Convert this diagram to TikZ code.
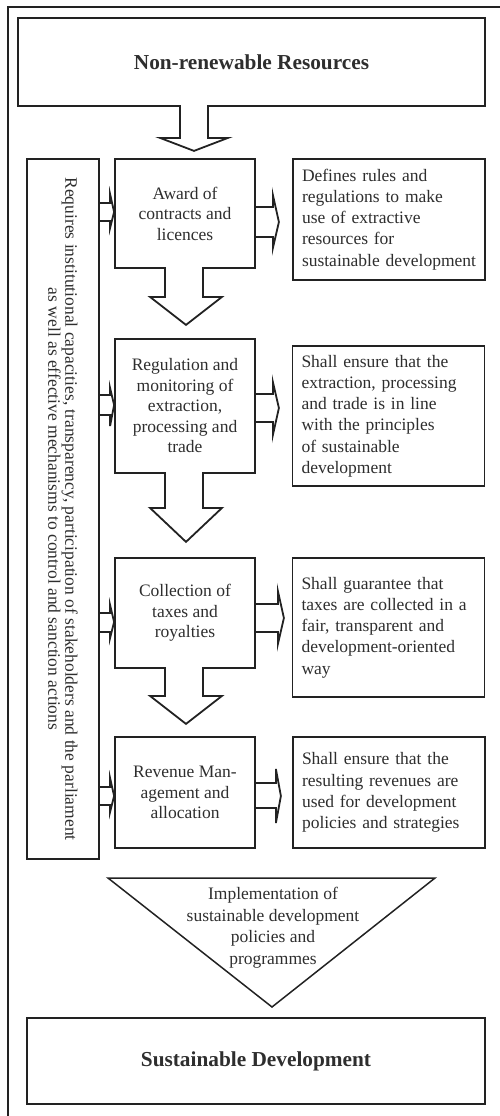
\documentclass[tikz,border=0pt]{standalone}
\usepackage{fontspec}
\setmainfont{Liberation Serif}
\usetikzlibrary{calc}
\definecolor{ink}{HTML}{222222}
\definecolor{txt}{HTML}{2E2E2E}
\begin{document}
\begin{tikzpicture}[x=1pt,y=-1pt,
  box/.style={draw=ink,line width=1.8pt,text=txt,inner sep=0pt},
  stepbox/.style={box,minimum width=140pt,align=center,font=\fontsize{17.5}{20.5}\selectfont},
  notebox/.style={box,text width=174pt,inner xsep=9pt,align=left,font=\fontsize{17.5}{21.2}\selectfont},
  titlebox/.style={box,font=\fontsize{21.3}{25}\selectfont\bfseries},
  blk/.style={draw=ink,line width=1.8pt,line join=miter},
  thin/.style={draw=ink,line width=1.3pt}]
\useasboundingbox (0,0) rectangle (500,1116);
% outer frame (clipped at right and bottom)
\draw[thin] (500,7) -- (8,7) -- (8,1116);
% main nodes
\node[titlebox,minimum width=467pt,minimum height=88pt] (top) at (251.5,62) {Non-renewable Resources};
\node[box,rotate=-90,minimum width=700pt,minimum height=72pt,align=center,font=\fontsize{17.5}{17}\selectfont] (req) at (63,509)
  {Requires institutional capacities, transparency, participation of stakeholders and the parliament\\as well as effective mechanisms to control and sanction actions};
\node[stepbox,minimum height=109pt] (s1) at (185,213.5) {Award of\\contracts and\\licences};
\node[stepbox,minimum height=134pt] (s2) at (185,406) {Regulation and\\monitoring of\\extraction,\\processing and\\trade};
\node[stepbox,minimum height=110pt] (s3) at (185,613) {Collection of\\taxes and\\royalties};
\node[stepbox,minimum height=111pt] (s4) at (185,792.5) {Revenue Man-\\agement and\\allocation};
\node[notebox,minimum height=121pt] (r1) at (389,219.5) {Defines rules and\\regulations to make\\use of extractive\\resources for\\sustainable development};
\node[notebox,minimum height=140pt] (r2) at (388.5,416) {Shall ensure that the\\extraction, processing\\and trade is in line\\with the principles\\of sustainable\\development};
\node[notebox,minimum height=139pt] (r3) at (388.5,627.5) {Shall guarantee that\\taxes are collected in a\\fair, transparent and\\development-oriented\\way};
\node[notebox,minimum height=111pt] (r4) at (389,792.5) {Shall ensure that the\\resulting revenues are\\used for development\\policies and strategies};
\node[titlebox,minimum width=458pt,minimum height=86pt] (bot) at (256,1061) {Sustainable Development};
% implementation triangle
\draw[ink,line width=1.5pt,line join=miter] (108,878) -- (435,878) -- (272,1007) -- cycle;
\node[text=txt,align=center,font=\fontsize{17.5}{21.5}\selectfont] (impl) at (273,927.5) {Implementation of\\sustainable development\\policies and\\programmes};
% down block arrows (open into the box above)
\fill[white] ($(top.south)+(-70.5,-1.5)$) rectangle ($(top.south)+(-44.5,1.5)$);
\draw[blk] ($(top.south)+(-71.5,-1)$) -- ++(0,32) -- ++(-20,0) -- ++(34,13) -- ++(34,-13) -- ++(-20,0) -- ++(0,-32);
\fill[white] ($(s1.south)+(-19,-1.5)$) rectangle ($(s1.south)+(17,1.5)$);
\draw[blk] ($(s1.south)+(-20,-1)$) -- ++(0,29) -- ++(-15,0) -- ++(36,28) -- ++(36,-28) -- ++(-19,0) -- ++(0,-29);
\fill[white] ($(s2.south)+(-19,-1.5)$) rectangle ($(s2.south)+(17,1.5)$);
\draw[blk] ($(s2.south)+(-20,-1)$) -- ++(0,35) -- ++(-15,0) -- ++(36,34) -- ++(36,-34) -- ++(-19,0) -- ++(0,-35);
\fill[white] ($(s3.south)+(-19,-1.5)$) rectangle ($(s3.south)+(17,1.5)$);
\draw[blk] ($(s3.south)+(-20,-1)$) -- ++(0,28) -- ++(-15,0) -- ++(36,28) -- ++(36,-28) -- ++(-19,0) -- ++(0,-28);
% right block arrows (step -> note)
\draw[blk] ($(s1.east)+(0,-6.5)$) -- ++(17,0) -- ++(0,-12) -- ++(6,27) -- ++(-6,26) -- ++(0,-11) -- ++(-17,0);
\draw[blk] ($(s2.east)+(0,-12)$) -- ++(17,0) -- ++(0,-12) -- ++(6,26) -- ++(-6,27) -- ++(0,-13) -- ++(-17,0);
\draw[blk] ($(s3.east)+(0,-9)$) -- ++(22,0) -- ++(0,-13) -- ++(6,27) -- ++(-6,26) -- ++(0,-12) -- ++(-22,0);
\draw[blk] ($(s4.east)+(0,-9.5)$) -- ++(20,0) -- ++(0,-14) -- ++(5,27) -- ++(-5,27) -- ++(0,-15) -- ++(-20,0);
% left block arrows (requirements -> step)
\draw[blk] ($(s1.west)+(-16,-10.5)$) -- ++(12,0) -- ++(0,-9) -- ++(4,18) -- ++(-4,16) -- ++(0,-7) -- ++(-12,0);
\draw[blk] ($(s2.west)+(-16,-11)$) -- ++(12,0) -- ++(0,-7) -- ++(4,17) -- ++(-4,21) -- ++(0,-11) -- ++(-12,0);
\draw[blk] ($(s3.west)+(-16,0)$) -- ++(12,0) -- ++(0,-8) -- ++(4,17) -- ++(-4,16) -- ++(0,-6) -- ++(-12,0);
\draw[blk] ($(s4.west)+(-16,-5.5)$) -- ++(12,0) -- ++(0,-9) -- ++(4,18) -- ++(-4,16) -- ++(0,-7) -- ++(-12,0);
\end{tikzpicture}
\end{document}
